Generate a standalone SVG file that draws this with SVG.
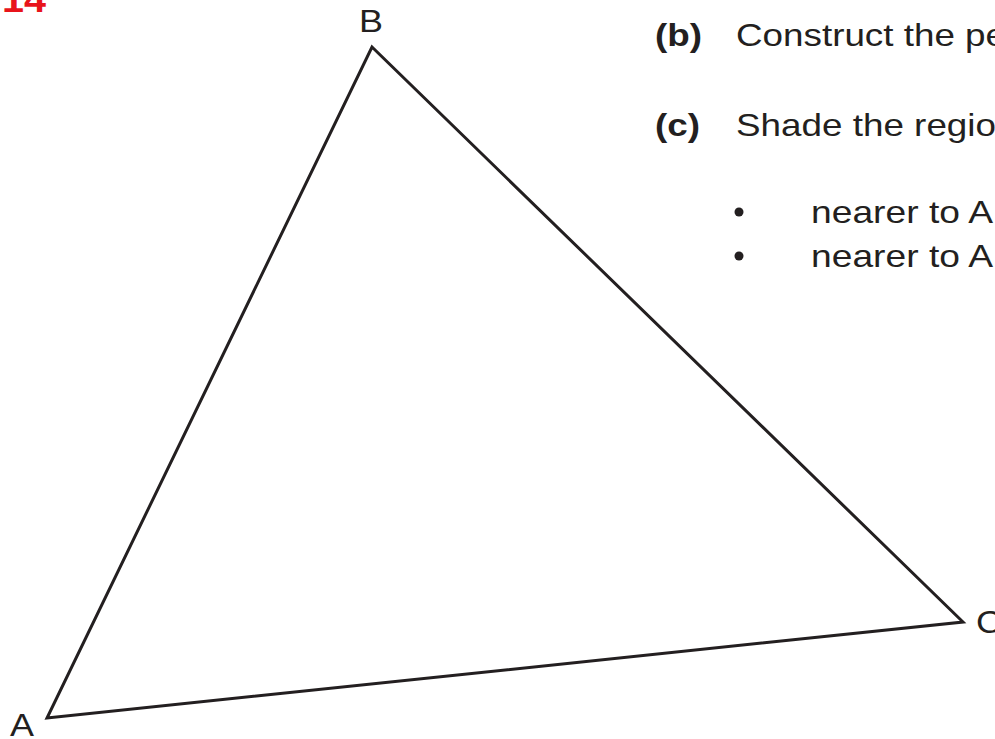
<svg xmlns="http://www.w3.org/2000/svg" width="995" height="739" viewBox="0 0 995 739">
<style>
text{font-family:"Liberation Sans",Arial,sans-serif;fill:#231f20}
.lbl{font-size:31px}
.q{font-size:32px}
.b{font-weight:bold}
</style>
<rect width="995" height="739" fill="#fff"/>
<text x="2" y="12" textLength="44" lengthAdjust="spacingAndGlyphs" style="font-size:36px;fill:#e8141b;font-weight:bold">14</text>
<g id="triangle">
<polygon points="372,47 963,622 47,718" fill="none" stroke="#231f20" stroke-width="3" stroke-linejoin="miter"/>
</g>
<g id="A"><text class="lbl" x="10" y="736" textLength="24" lengthAdjust="spacingAndGlyphs">A</text></g>
<g id="B"><text class="lbl" x="359" y="32" textLength="24" lengthAdjust="spacingAndGlyphs">B</text></g>
<g id="C"><text class="lbl" x="976" y="633" textLength="26" lengthAdjust="spacingAndGlyphs">C</text></g>
<g id="text">
<text class="q b" x="655" y="46" textLength="47" lengthAdjust="spacingAndGlyphs">(b)</text>
<text class="q" x="736" y="46" textLength="270" lengthAdjust="spacingAndGlyphs">Construct the pe</text>
<text class="q b" x="655" y="136" textLength="45" lengthAdjust="spacingAndGlyphs">(c)</text>
<text class="q" x="736" y="136" textLength="260" lengthAdjust="spacingAndGlyphs">Shade the regio</text>
<circle cx="739" cy="212" r="4.5" fill="#231f20"/>
<circle cx="739" cy="256" r="4.5" fill="#231f20"/>
<text class="q" x="811" y="223" textLength="182" lengthAdjust="spacingAndGlyphs">nearer to A</text>
<text class="q" x="811" y="267" textLength="182" lengthAdjust="spacingAndGlyphs">nearer to A</text>
</g>
</svg>
